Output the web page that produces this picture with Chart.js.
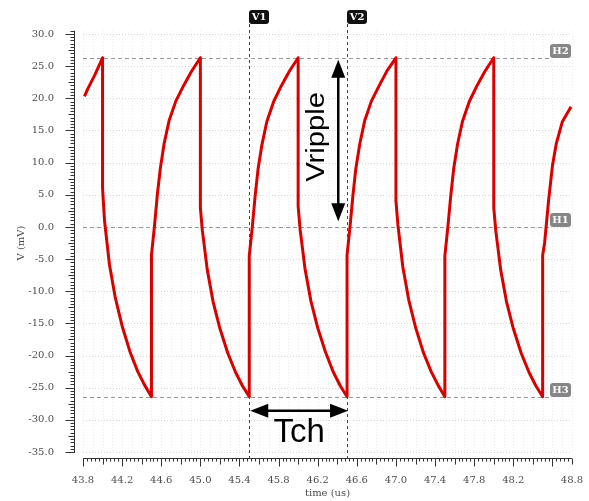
<!DOCTYPE html>
<html>
<head>
<meta charset="utf-8">
<script src="https://cdn.jsdelivr.net/npm/chart.js@4.4.1/dist/chart.umd.min.js"></script>
<style>
html, body { margin: 0; padding: 0; background: #fff; }
</style>
</head>
<body>
<canvas id="ripple" width="589" height="501"></canvas>
<script>
Chart.defaults.font.family = "DejaVu Serif";
Chart.defaults.font.size = 10;
Chart.defaults.color = '#4d4d4d';

// waveform: time (us) and voltage (mV)
const timeUs = [
  43.815, 43.85, 43.92, 44.0,
  44.0, 44.02, 44.07, 44.13, 44.2, 44.28, 44.36, 44.43, 44.5,
  44.5, 44.53, 44.56, 44.59, 44.63, 44.68, 44.75, 44.83, 44.91, 45.0,
  45.0, 45.02, 45.07, 45.13, 45.2, 45.28, 45.36, 45.43, 45.5,
  45.5, 45.53, 45.56, 45.59, 45.63, 45.68, 45.75, 45.83, 45.91, 46.0,
  46.0, 46.02, 46.07, 46.13, 46.2, 46.28, 46.36, 46.43, 46.5,
  46.5, 46.53, 46.56, 46.59, 46.63, 46.68, 46.75, 46.83, 46.91, 47.0,
  47.0, 47.02, 47.07, 47.13, 47.2, 47.28, 47.36, 47.43, 47.5,
  47.5, 47.53, 47.56, 47.59, 47.63, 47.68, 47.75, 47.83, 47.91, 48.0,
  48.0, 48.02, 48.07, 48.13, 48.2, 48.28, 48.36, 48.43, 48.5,
  48.5, 48.52, 48.56, 48.6, 48.64, 48.7, 48.79
];
const voltMv = [
  20.3, 21.5, 23.6, 26.3,
  6.0, 1.0, -5.8, -11.0, -15.4, -19.4, -22.5, -24.6, -26.4,
  -4.4, 0.0, 5.0, 9.0, 13.0, 16.5, 19.6, 22.0, 24.2, 26.3,
  3.0, -0.5, -6.6, -11.6, -15.8, -19.6, -22.6, -24.7, -26.4,
  -4.5, -0.2, 4.8, 9.0, 12.8, 16.4, 19.5, 22.0, 24.2, 26.3,
  3.2, -0.4, -6.5, -11.5, -15.7, -19.5, -22.6, -24.7, -26.4,
  -4.4, 0.0, 4.9, 9.1, 12.9, 16.5, 19.6, 22.0, 24.3, 26.3,
  4.0, 0.3, -6.2, -11.3, -15.6, -19.5, -22.5, -24.6, -26.4,
  -4.5, -0.1, 4.8, 9.0, 12.9, 16.4, 19.5, 22.0, 24.2, 26.3,
  3.0, -0.5, -6.6, -11.6, -15.8, -19.6, -22.6, -24.7, -26.4,
  -4.4, -2.5, 4.0, 9.5, 13.0, 16.3, 18.7
];

const xTickVals = [43.8, 44.2, 44.6, 45.0, 45.4, 45.8, 46.2, 46.6, 47.0, 47.4, 47.8, 48.2, 48.8];

// cursors
const vCursorNames = ['V1', 'V2'];
const vCursorVals = [45.5, 46.5];
const hCursorNames = ['H2', 'H1', 'H3'];
const hCursorVals = [26.3, 0.0, -26.4];

const points = timeUs.map((t, i) => ({ x: t, y: voltMv[i] }));

function drawArrow(ctx, x1, y1, x2, y2) {
  const ang = Math.atan2(y2 - y1, x2 - x1);
  const hl = 18, hw = 7;
  ctx.beginPath();
  ctx.moveTo(x1 + Math.cos(ang) * hl * 0.8, y1 + Math.sin(ang) * hl * 0.8);
  ctx.lineTo(x2 - Math.cos(ang) * hl * 0.8, y2 - Math.sin(ang) * hl * 0.8);
  ctx.stroke();
  [[x1, y1, ang + Math.PI], [x2, y2, ang]].forEach(([px, py, a]) => {
    ctx.beginPath();
    ctx.moveTo(px, py);
    ctx.lineTo(px - Math.cos(a) * hl - Math.sin(a) * hw, py - Math.sin(a) * hl + Math.cos(a) * hw);
    ctx.lineTo(px - Math.cos(a) * hl + Math.sin(a) * hw, py - Math.sin(a) * hl - Math.cos(a) * hw);
    ctx.closePath();
    ctx.fill();
  });
}

function roundBox(ctx, x, y, w, h, r) {
  ctx.beginPath();
  ctx.roundRect(x, y, w, h, r);
  ctx.fill();
}

const overlay = {
  id: 'overlay',
  beforeDatasetsDraw(chart) {
    const { ctx, chartArea: a, scales: { x, y } } = chart;
    ctx.save();
    // faint dotted grid
    ctx.lineWidth = 1;
    ctx.setLineDash([1, 2]);
    ctx.strokeStyle = '#ececec';
    for (let k = 0; k <= 50; k++) {
      const px = Math.round(x.getPixelForValue(43.8 + k * 0.1)) + 0.5;
      ctx.beginPath(); ctx.moveTo(px, a.top - 4); ctx.lineTo(px, a.bottom); ctx.stroke();
    }
    ctx.strokeStyle = '#d8d8d8';
    y.ticks.forEach(t => {
      const py = Math.round(y.getPixelForValue(t.value)) + 0.5;
      ctx.beginPath(); ctx.moveTo(a.left, py); ctx.lineTo(a.right, py); ctx.stroke();
    });

    // horizontal cursors
    ctx.setLineDash([4, 3]);
    ctx.strokeStyle = '#999';
    hCursorVals.forEach(v => {
      const py = Math.round(y.getPixelForValue(v)) + 0.5;
      ctx.beginPath(); ctx.moveTo(a.left, py); ctx.lineTo(a.right - 22, py); ctx.stroke();
    });
    // vertical cursors
    ctx.setLineDash([3, 3]);
    ctx.strokeStyle = '#444';
    vCursorVals.forEach(v => {
      const px = Math.round(x.getPixelForValue(v)) + 0.5;
      ctx.beginPath(); ctx.moveTo(px, a.top - 10); ctx.lineTo(px, a.bottom + 6); ctx.stroke();
    });
    ctx.restore();
  },
  afterDraw(chart) {
    const { ctx, chartArea: a, scales: { x, y } } = chart;
    ctx.save();
    // axis lines + ticks
    ctx.strokeStyle = '#333';
    ctx.lineWidth = 1;
    const axX = a.left - 8.5;
    const axY = a.bottom + 6.5;
    ctx.beginPath(); ctx.moveTo(axX, y.getPixelForValue(30.5)); ctx.lineTo(axX, a.bottom + 1); ctx.stroke();
    for (let k = 0; k <= 131; k++) {
      const py = Math.round(y.getPixelForValue(-35 + k * 0.5)) + 0.5;
      const len = k % 10 === 0 ? 9 : (k % 5 === 0 ? 6 : 4);
      ctx.beginPath(); ctx.moveTo(axX, py); ctx.lineTo(axX - len, py); ctx.stroke();
    }
    ctx.beginPath(); ctx.moveTo(a.left, axY); ctx.lineTo(a.right, axY); ctx.stroke();
    for (let k = 0; k <= 125; k++) {
      const px = Math.round(x.getPixelForValue(43.8 + k * 0.04)) + 0.5;
      const len = k % 10 === 0 ? 8 : (k % 5 === 0 ? 6 : 3);
      ctx.beginPath(); ctx.moveTo(px, axY); ctx.lineTo(px, axY + len); ctx.stroke();
    }

    // cursor labels
    ctx.font = 'bold 10px "DejaVu Serif"';
    ctx.textAlign = 'center';
    ctx.textBaseline = 'middle';
    vCursorVals.forEach((v, i) => {
      const px = Math.round(x.getPixelForValue(v));
      ctx.fillStyle = '#111';
      roundBox(ctx, px, a.top - 24, 20, 14, 3);
      ctx.fillStyle = '#fff';
      ctx.fillText(vCursorNames[i], px + 10, a.top - 17);
    });
    hCursorVals.forEach((v, i) => {
      const py = Math.round(y.getPixelForValue(v));
      ctx.fillStyle = '#868686';
      roundBox(ctx, a.right - 22, py - 14, 21, 14, 3);
      ctx.fillStyle = '#fff';
      ctx.fillText(hCursorNames[i], a.right - 11.5, py - 7);
    });

    // annotations
    ctx.fillStyle = '#000';
    ctx.strokeStyle = '#000';
    ctx.lineWidth = 2.5;
    const rx = x.getPixelForValue(46.41);
    drawArrow(ctx, rx, y.getPixelForValue(26.0), rx, y.getPixelForValue(0.9));
    const ty = y.getPixelForValue(-28.6);
    drawArrow(ctx, x.getPixelForValue(vCursorVals[0]) + 1, ty, x.getPixelForValue(vCursorVals[1]) + 1, ty);

    ctx.font = '25px "Liberation Sans"';
    ctx.textAlign = 'center';
    ctx.textBaseline = 'alphabetic';
    ctx.save();
    ctx.translate(x.getPixelForValue(46.26), y.getPixelForValue(14.0));
    ctx.rotate(-Math.PI / 2);
    ctx.scale(1.17, 1);
    ctx.fillText('Vripple', 0, 0);
    ctx.restore();

    ctx.font = '33px "Liberation Sans"';
    ctx.fillText('Tch', x.getPixelForValue(46.01), y.getPixelForValue(-33.5));
    ctx.restore();
  }
};

new Chart(document.getElementById('ripple'), {
  type: 'line',
  data: {
    datasets: [{
      label: 'V',
      data: points,
      borderColor: '#d90000',
      borderWidth: 3,
      borderJoinStyle: 'round',
      pointRadius: 0,
      tension: 0,
      fill: false
    }]
  },
  options: {
    responsive: false,
    devicePixelRatio: 1,
    animation: false,
    layout: { padding: { top: 34, right: 17, left: 0, bottom: 0 } },
    plugins: { legend: { display: false }, tooltip: { enabled: false } },
    scales: {
      x: {
        type: 'linear',
        min: 43.8,
        max: 48.8,
        afterFit: s => { s.height = 49; },
        afterBuildTicks: s => { s.ticks = xTickVals.map(v => ({ value: v })); },
        // invisible tick marks used only to push the labels down
        grid: { display: true, color: 'transparent', drawOnChartArea: false, drawTicks: true, tickLength: 22 },
        border: { display: false },
        ticks: {
          autoSkip: false,
          maxRotation: 0,
          padding: 0,
          callback: v => Number(v).toFixed(1)
        },
        title: { display: true, text: 'time (us)', padding: { top: 0, bottom: 2 } }
      },
      y: {
        min: -35,
        max: 30,
        afterFit: s => { s.width = 83; },
        grid: { display: true, color: 'transparent', drawOnChartArea: false, drawTicks: true, tickLength: 29 },
        border: { display: false },
        ticks: {
          stepSize: 5,
          padding: 0,
          callback: v => Number(v).toFixed(1)
        },
        title: { display: true, text: 'V (mV)', padding: { top: 15, bottom: 0 } }
      }
    }
  },
  plugins: [overlay]
});
</script>
</body>
</html>
